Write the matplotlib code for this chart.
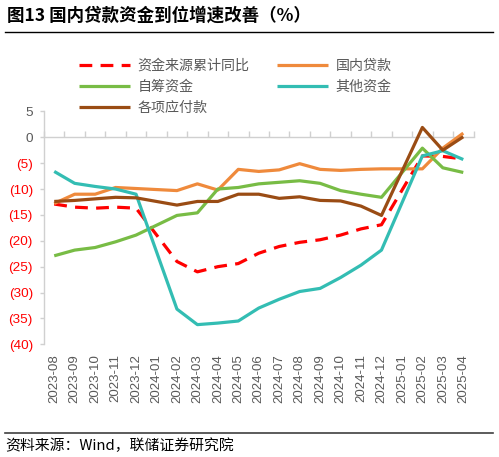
import numpy as np
import matplotlib
matplotlib.use("Agg")
import matplotlib.pyplot as plt
from matplotlib.lines import Line2D
from matplotlib.ticker import FixedLocator, FixedFormatter

plt.rcParams['font.family'] = ['Liberation Sans', 'Noto Sans CJK SC', 'DejaVu Sans']

months = ["2023-08", "2023-09", "2023-10", "2023-11", "2023-12",
          "2024-01", "2024-02", "2024-03", "2024-04", "2024-05", "2024-06",
          "2024-07", "2024-08", "2024-09", "2024-10", "2024-11", "2024-12",
          "2025-01", "2025-02", "2025-03", "2025-04"]
nan = np.nan
funds_total = [-12.9, -13.5, -13.7, -13.5, -13.7, nan, -24.0, -26.0, -25.0, -24.4, -22.4,
               -21.1, -20.3, -19.8, -18.9, -17.7, -16.9, nan, -3.6, -3.7, -4.2]
domestic_loans = [-12.8, -11.0, -11.0, -9.7, -9.9, nan, -10.3, -9.0, -10.2, -6.2, -6.6,
                  -6.3, -5.1, -6.2, -6.4, -6.2, -6.1, nan, -6.1, -2.1, 0.8]
self_raised = [-22.9, -21.8, -21.3, -20.2, -18.9, nan, -15.1, -14.6, -10.0, -9.7, -9.0,
               -8.7, -8.4, -8.9, -10.3, -11.0, -11.6, nan, -2.1, -5.9, -6.8]
other_funds = [-6.6, -8.9, -9.5, -10.0, -11.0, nan, -33.2, -36.2, -35.9, -35.5, -33.0,
               -31.3, -29.8, -29.2, -27.1, -24.7, -21.8, nan, -3.6, -2.6, -4.3]
payables = [-12.4, -12.2, -11.9, -11.6, -11.7, nan, -13.1, -12.4, -12.4, -11.0, -11.0,
            -11.8, -11.5, -12.2, -12.3, -13.3, -15.1, nan, 1.9, -2.5, 0.1]

series_names = ["资金来源累计同比", "国内贷款", "自筹资金", "其他资金", "各项应付款"]
series_values = [funds_total, domestic_loans, self_raised, other_funds, payables]
colors = ["#FF0000", "#EF8A3C", "#78BC45", "#33BDB3", "#9A4C14"]
yticks = [5, 0, -5, -10, -15, -20, -25, -30, -35, -40]

W, H = 499, 457
fig = plt.figure(figsize=(W / 100, H / 100), dpi=100)
ax = fig.add_axes([44 / W, 1 - 344.3 / H, (473.5 - 44) / W, (344.3 - 111.4) / H])

x = np.arange(len(months))
handles = []
for i, (name, vals, c) in enumerate(zip(series_names, series_values, colors)):
    v = np.array(vals, dtype=float)
    m = ~np.isnan(v)
    if i == 0:
        ln, = ax.plot(x[m], v[m], color=c, lw=2.3, dashes=(4, 2.6),
                      dash_capstyle='butt', zorder=2 + i, label=name)
    else:
        ln, = ax.plot(x[m], v[m], color=c, lw=2.3, solid_capstyle='butt',
                      zorder=2 + i, label=name)
    handles.append(ln)

ax.set_xlim(-0.5, len(months) - 0.5)
ax.set_ylim(-40, 5)

axis_gray = "#D0D0D0"
text_gray = "#595959"
for s in ['top', 'right']:
    ax.spines[s].set_visible(False)
ax.spines['left'].set_color(axis_gray)
ax.spines['bottom'].set_color(axis_gray)
ax.spines['bottom'].set_position(('data', 0))
ax.spines['left'].set_linewidth(1.0)
ax.spines['bottom'].set_linewidth(1.0)

ax.yaxis.set_major_locator(FixedLocator(yticks))
ax.yaxis.set_major_formatter(FixedFormatter(
    [str(v) if v >= 0 else "(%d)" % (-v) for v in yticks]))
ax.tick_params(axis='y', direction='out', length=3, width=1, color=axis_gray,
               labelsize=9.7, pad=5)
for t, v in zip(ax.get_yticklabels(), yticks):
    t.set_color("#FF0000" if v < 0 else text_gray)

ax.xaxis.set_major_locator(FixedLocator(list(x)))
ax.xaxis.set_minor_locator(FixedLocator(list(np.arange(-0.5, len(months), 1.0))))
ax.tick_params(axis='x', which='major', length=0, labelbottom=False)
ax.tick_params(axis='x', which='minor', direction='in', length=4, width=1,
               color=axis_gray)

ax2 = ax.twiny()
ax2.set_xlim(ax.get_xlim())
for s in ax2.spines.values():
    s.set_visible(False)
ax2.xaxis.tick_bottom()
ax2.xaxis.set_label_position('bottom')
ax2.set_xticks(x)
ax2.set_xticklabels(months, rotation=90, color=text_gray, fontsize=9.5)
ax2.tick_params(axis='x', length=0, pad=7)

order = [0, 2, 4, 1, 3]
leg = fig.legend([handles[i] for i in order], [series_names[i] for i in order],
                 loc='upper left', bbox_to_anchor=(79 / W, 1 - 59 / H),
                 ncol=2, frameon=False, handlelength=3.6,
                 handletextpad=0.55, columnspacing=2.0, labelspacing=0.5,
                 borderpad=0, borderaxespad=0,
                 prop={'family': ['Noto Sans CJK SC'], 'size': 10.1})
for t in leg.get_texts():
    t.set_color(text_gray)

fig.text(7 / W, 1 - 16 / H, "图13 国内贷款资金到位增速改善（%）",
         fontsize=12.6, fontweight='bold', va='center', ha='left',
         family=['Noto Sans CJK SC', 'DejaVu Sans'], color='black')
fig.add_artist(Line2D([5 / W, 493 / W], [1 - 32 / H, 1 - 32 / H],
                      transform=fig.transFigure, color='black', lw=1.0))
fig.add_artist(Line2D([5 / W, 493 / W], [1 - 432.5 / H, 1 - 432.5 / H],
                      transform=fig.transFigure, color='#404040', lw=1.2))
fig.text(5 / W, 1 - 446 / H, "资料来源：Wind，联储证券研究院",
         fontsize=10.7, va='center', ha='left',
         family=['Noto Sans CJK SC', 'DejaVu Sans'], color='black')

fig.savefig("out.png", dpi=100)
